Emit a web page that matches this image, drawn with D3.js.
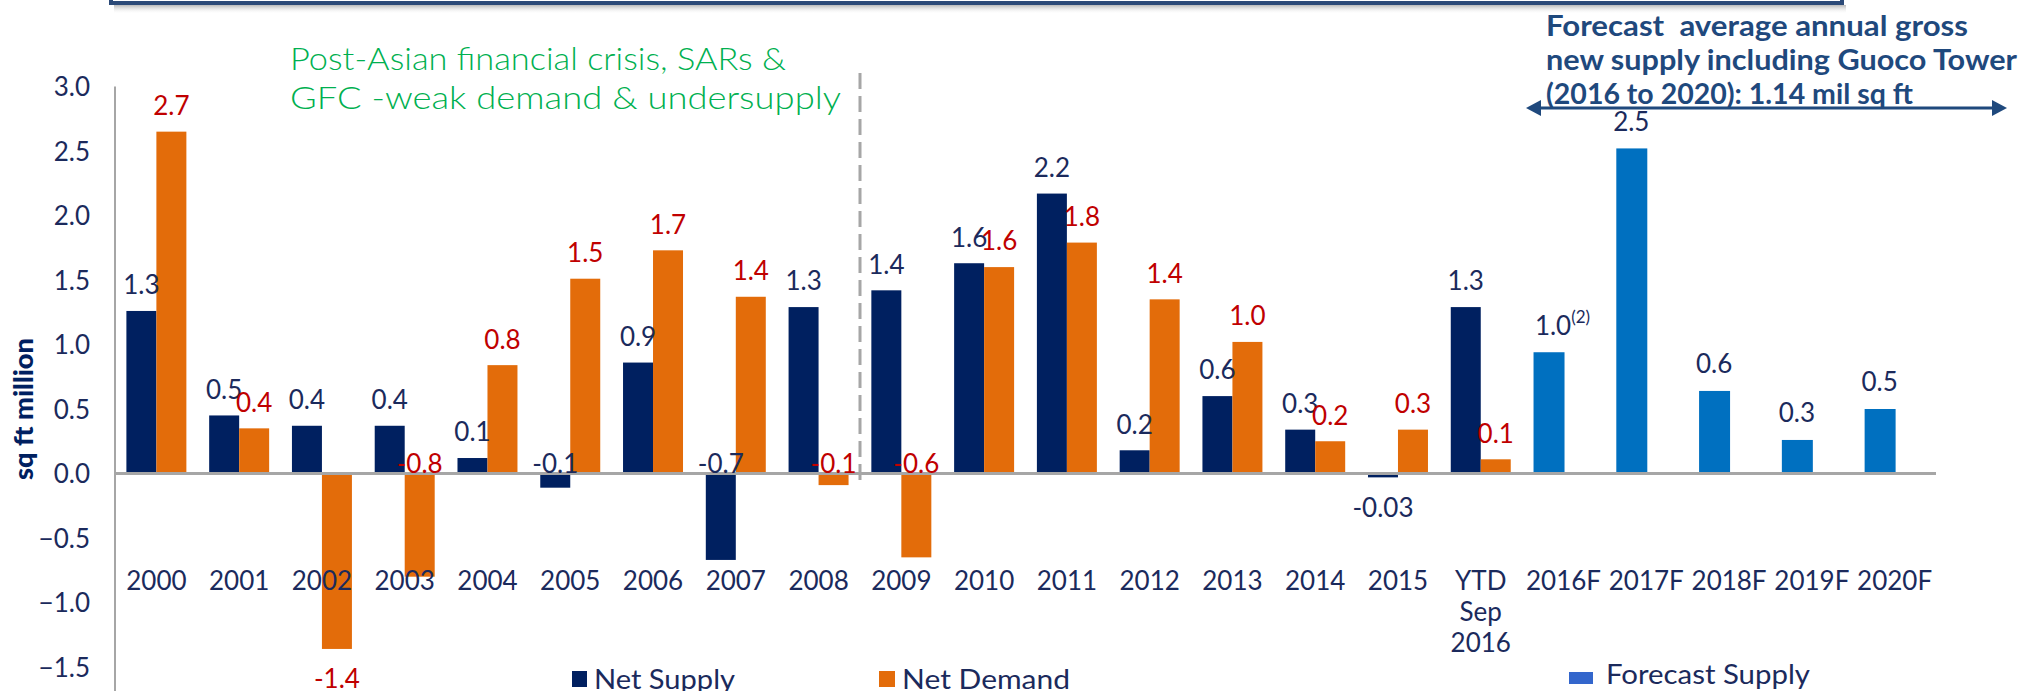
<!DOCTYPE html>
<html><head><meta charset="utf-8">
<script src="https://cdn.jsdelivr.net/npm/d3@7"></script>
<style>
html,body{margin:0;padding:0;background:#fff;}
svg{display:block;font-family:Lato,"Noto Sans",sans-serif;}
</style>
</head><body>
<svg id="chart" width="2024" height="691"></svg>
<script>
// ---------- data ----------
const categories = ["2000","2001","2002","2003","2004","2005","2006","2007","2008","2009",
  "2010","2011","2012","2013","2014","2015","YTD\nSep\n2016","2016F","2017F","2018F","2019F","2020F"];
const historicalCategories = ["2000","2001","2002","2003","2004","2005","2006","2007","2008","2009",
  "2010","2011","2012","2013","2014","2015","YTD\nSep\n2016"];
const netSupply = [1.26,0.45,0.37,0.37,0.12,-0.11,0.86,-0.67,1.29,1.42,1.63,2.17,0.18,0.60,0.34,-0.03,1.29];
const netDemand = [2.65,0.35,-1.36,-0.80,0.84,1.51,1.73,1.37,-0.09,-0.65,1.60,1.79,1.35,1.02,0.25,0.34,0.11];
const supplyLabels = ["1.3","0.5","0.4","0.4","0.1","-0.1","0.9","-0.7","1.3","1.4","1.6","2.2","0.2","0.6","0.3","-0.03","1.3"];
const demandLabels = ["2.7","0.4","-1.4","-0.8","0.8","1.5","1.7","1.4","-0.1","-0.6","1.6","1.8","1.4","1.0","0.2","0.3","0.1"];
// "base" = label sits just above the zero line, "end" = label beyond the bar end
const supplyLabelPlacement = ["end","end","end","end","end","base","end","base","end","end","end","end","end","end","end","end","end"];
const demandLabelPlacement = ["end","end","end","base","end","end","end","end","base","base","end","end","end","end","end","end","end"];
const forecastCategories = ["2016F","2017F","2018F","2019F","2020F"];
const forecastSupply = [0.94,2.52,0.64,0.26,0.50];
const forecastLabels = ["1.0","2.5","0.6","0.3","0.5"];
const forecastNotes = ["(2)","","","",""];
const yTicks = [-1.5,-1.0,-0.5,0.0,0.5,1.0,1.5,2.0,2.5,3.0];
const seriesNames = ["Net Supply","Net Demand","Forecast Supply"];
const periodNote = ["Post-Asian financial crisis, SARs &","GFC -weak demand & undersupply"];
const forecastNote = ["Forecast  average annual gross","new supply including Guoco Tower","(2016 to 2020): 1.14 mil sq ft"];
const yTitle = "sq ft million";

// ---------- style ----------
const C = {navy:"#002060", orange:"#E36C0A", fblue:"#0070C0", legendBlue:"#3366CC",
  text:"#1B2A5C", red:"#C00000", green:"#00B050", axis:"#A6A6A6", note:"#1F497D"};

const svg = d3.select("#chart");

// top frame remnant
const defs = svg.append("defs");
const g1 = defs.append("linearGradient").attr("id","shadow").attr("x1",0).attr("y1",0).attr("x2",0).attr("y2",1);
g1.append("stop").attr("offset","0%").attr("stop-color","#9a9a9a").attr("stop-opacity",0.7);
g1.append("stop").attr("offset","100%").attr("stop-color","#ffffff").attr("stop-opacity",0);
svg.append("rect").attr("x",114).attr("y",5).attr("width",1732).attr("height",9).attr("fill","url(#shadow)");
svg.append("rect").attr("x",111).attr("y",-60).attr("width",1731).attr("height",63)
  .attr("fill","none").attr("stroke","#2C4A78").attr("stroke-width",4);

// scales
const x = d3.scaleBand().domain(categories).range([115,1936]).paddingInner(0).paddingOuter(0);
const xs = d3.scaleBand().domain(["s","d"]).range([0,x.bandwidth()]).paddingInner(0).paddingOuter(0.38);
const y = d3.scaleLinear().domain([-1.5,3]).range([667,86.5]);

// y axis
const yAxis = d3.axisLeft(y).tickValues(yTicks).tickFormat(d3.format(".1f")).tickSize(0).tickPadding(0);
const ya = svg.append("g").attr("transform","translate(90,0)").call(yAxis);
ya.select(".domain").remove();
ya.selectAll("text").attr("font-size",26).attr("fill",C.text).attr("font-family","Lato,'Noto Sans',sans-serif")
  .attr("dy","0.36em");
svg.append("line").attr("x1",115).attr("x2",115).attr("y1",y(3)).attr("y2",691)
  .attr("stroke",C.axis).attr("stroke-width",2);

// y title
svg.append("text").attr("transform",`translate(33,${409}) rotate(-90)`).attr("text-anchor","middle")
  .attr("font-size",26).attr("font-weight","900").attr("fill",C.navy)
  .attr("textLength",142).attr("lengthAdjust","spacingAndGlyphs").text(yTitle);

// bars
const hist = historicalCategories.map((c,i)=>({c,i,s:netSupply[i],d:netDemand[i]}));
svg.append("g").selectAll("rect").data(hist).join("rect")
  .attr("x",d=>x(d.c)+xs("s")).attr("width",xs.bandwidth())
  .attr("y",d=>y(Math.max(0,d.s))).attr("height",d=>Math.abs(y(d.s)-y(0)))
  .attr("fill",C.navy);
svg.append("g").selectAll("rect").data(hist).join("rect")
  .attr("x",d=>x(d.c)+xs("d")).attr("width",xs.bandwidth())
  .attr("y",d=>y(Math.max(0,d.d))).attr("height",d=>Math.abs(y(d.d)-y(0)))
  .attr("fill",C.orange);
const fc = forecastCategories.map((c,i)=>({c,i,v:forecastSupply[i]}));
svg.append("g").selectAll("rect").data(fc).join("rect")
  .attr("x",d=>x(d.c)+xs("s")).attr("width",xs.bandwidth()+1)
  .attr("y",d=>y(Math.max(0,d.v))).attr("height",d=>Math.abs(y(d.v)-y(0)))
  .attr("fill",C.fblue);

// zero line
svg.append("line").attr("x1",115).attr("x2",1936).attr("y1",y(0)).attr("y2",y(0))
  .attr("stroke",C.axis).attr("stroke-width",3);

// value labels
function labelY(v, place){
  if(place==="base") return y(0)-10;
  return v>=0 ? y(v)-26 : y(v)+30;
}
const lab = svg.append("g").attr("font-size",26).attr("text-anchor","middle");
lab.selectAll("text.s").data(hist).join("text").attr("class","s")
  .attr("x",d=>x(d.c)+xs("s")+xs.bandwidth()/2)
  .attr("y",d=>labelY(d.s,supplyLabelPlacement[d.i])).attr("dy","0.36em")
  .attr("fill",C.text).text(d=>supplyLabels[d.i]);
lab.selectAll("text.d").data(hist).join("text").attr("class","d")
  .attr("x",d=>x(d.c)+xs("d")+xs.bandwidth()/2)
  .attr("y",d=>labelY(d.d,demandLabelPlacement[d.i])).attr("dy","0.36em")
  .attr("fill",C.red).text(d=>demandLabels[d.i]);
const fl = lab.selectAll("text.f").data(fc).join("text").attr("class","f")
  .attr("x",d=>x(d.c)+xs("s")+xs.bandwidth()/2 + (forecastNotes[d.i]?14:0))
  .attr("y",d=>y(d.v)-27).attr("dy","0.36em").attr("fill",C.text);
fl.append("tspan").text(d=>forecastLabels[d.i]);
fl.filter(d=>forecastNotes[d.i]).append("tspan").attr("font-size",17).attr("dy","-0.7em").text(d=>forecastNotes[d.i]);

// category labels
const cl = svg.append("g").attr("font-size",26).attr("text-anchor","middle").attr("fill",C.text);
categories.forEach(c=>{
  const t = cl.append("text").attr("x",x(c)+x.bandwidth()/2).attr("y",581).attr("dy","0.36em");
  c.split("\n").forEach((ln,k)=>{
    t.append("tspan").attr("x",x(c)+x.bandwidth()/2).attr("dy",k===0?"0.36em":31).text(ln);
  });
});

// dashed separator
svg.append("line").attr("x1",860).attr("x2",860).attr("y1",73).attr("y2",481)
  .attr("stroke","#A6A6A6").attr("stroke-width",3).attr("stroke-dasharray","16,7");

// green annotation
const periodWidths = [496,551];
const gn = svg.append("g").attr("font-size",32).attr("font-weight",300).attr("fill",C.green);
periodNote.forEach((t,k)=>gn.append("text").attr("x",290).attr("y",58+39*k).attr("dy","0.36em")
  .attr("textLength",periodWidths[k]).attr("lengthAdjust","spacingAndGlyphs").text(t));

// forecast annotation
const noteWidths = [422,471,367];
const fn = svg.append("g").attr("font-size",28).attr("font-weight","bold").attr("fill",C.note);
forecastNote.forEach((t,k)=>fn.append("text").attr("x",1546).attr("y",26+34*k).attr("dy","0.36em")
  .attr("textLength",noteWidths[k]).attr("lengthAdjust","spacingAndGlyphs")
  .style("white-space","pre").text(t));
svg.append("line").attr("x1",1538).attr("x2",1995).attr("y1",108).attr("y2",108)
  .attr("stroke",C.note).attr("stroke-width",3);
svg.append("path").attr("d","M1526,108 L1541,100 L1541,116 Z").attr("fill",C.note);
svg.append("path").attr("d","M2007,108 L1992,100 L1992,116 Z").attr("fill",C.note);

// legend
const legend = [
  {name:seriesNames[0], color:C.navy, sx:572, sy:671, sw:15, sh:16, tx:594, ty:689, w:141},
  {name:seriesNames[1], color:C.orange, sx:879, sy:671, sw:16, sh:16, tx:902, ty:689, w:168},
  {name:seriesNames[2], color:C.legendBlue, sx:1569, sy:672, sw:24, sh:12, tx:1606, ty:684, w:204}
];
const lg = svg.append("g");
legend.forEach(l=>{
  lg.append("rect").attr("x",l.sx).attr("y",l.sy).attr("width",l.sw).attr("height",l.sh).attr("fill",l.color);
  lg.append("text").attr("x",l.tx).attr("y",l.ty).attr("font-size",26).attr("fill",C.text)
    .attr("textLength",l.w).attr("lengthAdjust","spacingAndGlyphs").text(l.name);
});
</script>
</body></html>
